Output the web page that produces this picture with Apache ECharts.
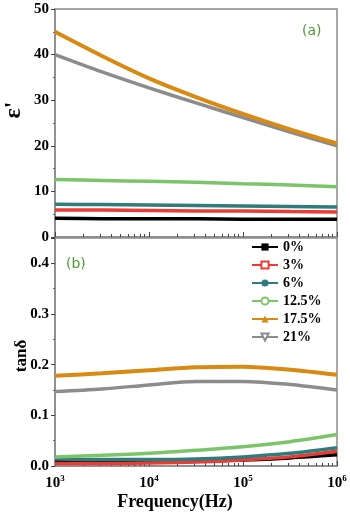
<!DOCTYPE html>
<html>
<head>
<meta charset="utf-8">
<script src="https://cdn.jsdelivr.net/npm/echarts@6/dist/echarts.min.js"></script>
<style>
  html, body { margin: 0; padding: 0; background: #fff; }
  #chart { width: 350px; height: 524px; }
</style>
</head>
<body>
<div id="chart"></div>
<script>
// frequency, as log10(Hz)
const logFreq = [3, 3.5, 4, 4.5, 5, 5.5, 6]

const names = ['0%', '3%', '6%', '12.5%', '17.5%', '21%']
const colors = ['#000000', '#ea3b35', '#2f7c7c', '#7cc46a', '#d98a12', '#8c8c8c']

// (a) real permittivity
const eps0 = [4.1, 4.0, 4.0, 4.0, 3.9, 3.9, 3.9]
const eps3 = [5.9, 5.9, 5.8, 5.7, 5.7, 5.6, 5.5]
const eps6 = [7.2, 7.1, 7.0, 6.9, 6.8, 6.7, 6.6]
const eps125 = [12.6, 12.4, 12.2, 12.0, 11.7, 11.4, 11.0]
const eps175 = [45, 39.7, 34.8, 30.7, 27.0, 23.6, 20.5]
const eps21 = [40, 36.2, 32.7, 29.4, 26.2, 23.0, 20.0]

// (b) loss tangent
const tan0 = [0.010, 0.009, 0.009, 0.010, 0.012, 0.016, 0.022]
const tan3 = [0.005, 0.005, 0.006, 0.008, 0.012, 0.018, 0.029]
const tan6 = [0.014, 0.013, 0.013, 0.014, 0.018, 0.025, 0.036]
const tan125 = [0.018, 0.021, 0.025, 0.031, 0.038, 0.048, 0.062]
const tan175 = [0.178, 0.183, 0.189, 0.195, 0.196, 0.190, 0.180]
const tan21 = [0.147, 0.152, 0.160, 0.167, 0.167, 0.161, 0.150]

// tick labels
const epsTicks = [0, 10, 20, 30, 40, 50]
const tanTicks = [0, 0.1, 0.2, 0.3, 0.4]
const minorFreqs = [2e3, 3e3, 4e3, 5e3, 6e3, 7e3, 8e3, 9e3,
  2e4, 3e4, 4e4, 5e4, 6e4, 7e4, 8e4, 9e4,
  2e5, 3e5, 4e5, 5e5, 6e5, 7e5, 8e5, 9e5]

const symbols = ['rect', 'rect', 'circle', 'circle', 'triangle', 'triangle']
const hollow = [false, true, false, true, false, true]

const serif = 'Liberation Serif'
const axisGray = '#8a8a8a'

function pairs(ys) {
  return logFreq.map((x, i) => [x, ys[i]])
}

function makeSeries(name, i, ys, gridIdx) {
  const c = colors[i]
  return {
    name,
    type: 'line',
    xAxisIndex: gridIdx,
    yAxisIndex: gridIdx,
    data: pairs(ys),
    smooth: 0.3,
    showSymbol: false,
    symbol: symbols[i],
    symbolRotate: i === 5 ? 180 : 0,
    symbolSize: 8,
    z: i === 4 ? 3 : 2,
    lineStyle: { color: c, width: i === 4 ? 4 : 3.5 },
    itemStyle: hollow[i]
      ? { color: '#ffffff', borderColor: c, borderWidth: 1.5 }
      : { color: c },
    emphasis: { disabled: true }
  }
}

const epsData = [eps0, eps3, eps6, eps125, eps175, eps21]
const tanData = [tan0, tan3, tan6, tan125, tan175, tan21]

const series = []
names.forEach((n, i) => series.push(makeSeries(n, i, epsData[i], 0)))
names.forEach((n, i) => series.push(makeSeries(n, i, tanData[i], 1)))

function xAxisMain(gridIndex, showLabel) {
  return {
    type: 'value',
    gridIndex,
    min: 3,
    max: 6,
    interval: 1,
    axisLine: { lineStyle: { color: axisGray, width: 1.5 } },
    axisTick: { inside: true, length: 5, lineStyle: { color: '#444' } },
    splitLine: { show: false },
    axisLabel: {
      show: showLabel,
      margin: 8,
      formatter: v => '{b|10}{s|' + v + '}',
      rich: {
        b: { fontFamily: serif, fontWeight: 'bold', fontSize: 15, color: '#000' },
        s: { fontFamily: serif, fontWeight: 'bold', fontSize: 9, color: '#000', padding: [0, 0, 9, 0] }
      }
    }
  }
}

// log-spaced minor ticks drawn by an overlay axis
function xAxisMinor(gridIndex) {
  return {
    type: 'value',
    gridIndex,
    min: 3,
    max: 6,
    position: 'bottom',
    axisLine: { show: false },
    axisLabel: { show: false },
    splitLine: { show: false },
    axisTick: {
      show: true,
      inside: true,
      length: 3,
      customValues: minorFreqs.map(f => Math.log10(f)),
      lineStyle: { color: '#444', width: 1 }
    }
  }
}

const yLabel = { fontFamily: serif, fontWeight: 'bold', fontSize: 15, color: '#000', margin: 6 }

const option = {
  animation: false,
  backgroundColor: '#fff',
  grid: [
    { left: 55, top: 9, width: 282, height: 228, show: true, borderColor: axisGray, borderWidth: 1.5 },
    { left: 55, top: 238, width: 282, height: 228, show: true, borderColor: axisGray, borderWidth: 1.5 }
  ],
  xAxis: [
    xAxisMain(0, false),
    xAxisMain(1, true),
    xAxisMinor(0),
    xAxisMinor(1)
  ],
  yAxis: [
    {
      type: 'value', gridIndex: 0, min: 0, max: 50, interval: 10,
      axisLine: { show: true, lineStyle: { color: axisGray, width: 1.5 } },
      axisTick: { show: true, length: 4, lineStyle: { color: '#444' } },
      minorTick: { show: true, splitNumber: 2, length: 2, lineStyle: { color: '#666' } },
      splitLine: { show: false },
      axisLabel: Object.assign({}, yLabel, {
        formatter: v => epsTicks.includes(v) ? String(v) : ''
      })
    },
    {
      type: 'value', gridIndex: 1, min: 0, max: 0.45, interval: 0.1,
      axisLine: { show: true, lineStyle: { color: axisGray, width: 1.5 } },
      axisTick: { show: true, length: 4, lineStyle: { color: '#444' } },
      minorTick: { show: true, splitNumber: 2, length: 2, lineStyle: { color: '#666' } },
      splitLine: { show: false },
      axisLabel: Object.assign({}, yLabel, {
        showMaxLabel: false,
        formatter: v => {
          const t = tanTicks.find(k => Math.abs(k - v) < 1e-6)
          return t === undefined ? '' : t.toFixed(1)
        }
      })
    }
  ],
  legend: {
    data: names,
    orient: 'vertical',
    left: 246,
    top: 235,
    itemWidth: 26,
    itemHeight: 9,
    itemGap: 4,
    selectedMode: false,
    textStyle: { fontFamily: serif, fontWeight: 'bold', fontSize: 14, color: '#000' }
  },
  graphic: [
    {
      type: 'text', left: 302, top: 24,
      style: { text: '(a)', fill: '#4a9a34', font: '14px "DejaVu Sans"' }
    },
    {
      type: 'text', left: 66, top: 257,
      style: { text: '(b)', fill: '#4a9a34', font: '14px "DejaVu Sans"' }
    },
    {
      type: 'text', x: 14, y: 110, rotation: Math.PI / 2,
      style: { text: "ε'", fill: '#000', font: 'bold 24px "Liberation Serif"', align: 'center', verticalAlign: 'middle' }
    },
    {
      type: 'text', x: 22, y: 356, rotation: Math.PI / 2,
      style: { text: 'tanδ', fill: '#000', font: 'bold 17px "Liberation Serif"', align: 'center', verticalAlign: 'middle' }
    },
    {
      type: 'text', left: 'center', top: 493,
      style: { text: 'Frequency(Hz)', fill: '#000', font: 'bold 18px "Liberation Serif"' }
    }
  ],
  series
}

const chart = echarts.init(document.getElementById('chart'))
chart.setOption(option)
</script>
</body>
</html>
